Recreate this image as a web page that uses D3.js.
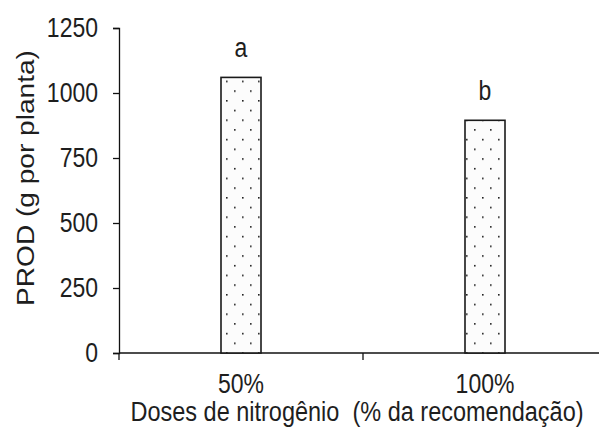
<!DOCTYPE html>
<html>
<head>
<meta charset="utf-8">
<script src="https://cdn.jsdelivr.net/npm/d3@7"></script>
<style>
  body { margin: 0; background: #fff; }
  svg { display: block; }
  text { font-family: "Liberation Sans", Arial, sans-serif; fill: #1e1e1e; }
</style>
</head>
<body>
<div id="chart"></div>
<script>
  // chart data
  var doses = ["50%", "100%"];
  var prod = [1060, 895];
  var letters = ["a", "b"];
  var yTicks = [0, 250, 500, 750, 1000, 1250];

  (function() {
    'use strict';
    var w = 599, h = 432;
    var m = { left: 119, right: 607, top: 28, bottom: 353 };
    var stretch = 1.17;   // the original text is drawn a bit taller than wide

    var svg = d3.select("#chart").append("svg")
        .attr("width", w)
        .attr("height", h);

    // dotted fill for the bars
    var pat = svg.append("defs").append("pattern")
        .attr("id", "dots")
        .attr("patternUnits", "userSpaceOnUse")
        .attr("width", 16)
        .attr("height", 19.4)
        .attr("x", 2).attr("y", 3);
    pat.append("rect").attr("width", 16).attr("height", 19.4).attr("fill", "#fcfcfc");
    pat.append("rect").attr("x", 0).attr("y", 0).attr("width", 1.6).attr("height", 1.6).attr("fill", "#222");
    pat.append("rect").attr("x", 8).attr("y", 9.7).attr("width", 1.6).attr("height", 1.6).attr("fill", "#222");

    var x = d3.scaleBand().domain(doses).range([m.left, m.right]);
    var y = d3.scaleLinear().domain([0, 1250]).range([m.bottom, m.top]);
    var barW = 40;

    function label(px, py, txt, size, anchor) {
      return svg.append("text")
          .attr("transform", "translate(" + px + "," + py + ") scale(1," + stretch + ")")
          .attr("text-anchor", anchor || "middle")
          .attr("xml:space", "preserve")
          .style("font-size", size + "px")
          .text(txt);
    }

    // y axis
    var yAxis = svg.append("g")
        .attr("transform", "translate(" + m.left + ",0)")
        .call(d3.axisLeft(y).tickValues(yTicks).tickFormat(d3.format("d"))
              .tickSize(6).tickPadding(12));
    yAxis.select(".domain").attr("stroke", "#111").attr("stroke-width", 1.3);
    yAxis.selectAll(".tick line").attr("stroke", "#111").attr("stroke-width", 1.3);
    yAxis.selectAll(".tick text").remove();
    yTicks.forEach(function(t) {
      label(98, y(t) + 8.5, String(t), 23, "end");
    });

    // x axis, ticks at band edges
    var xEdges = [m.left, m.left + x.bandwidth(), m.right];
    svg.append("line")
        .attr("x1", m.left).attr("x2", m.right)
        .attr("y1", m.bottom).attr("y2", m.bottom)
        .attr("stroke", "#111").attr("stroke-width", 1.3);
    svg.selectAll(".xtick").data(xEdges).enter().append("line")
        .attr("class", "xtick")
        .attr("x1", function(d) { return d; })
        .attr("x2", function(d) { return d; })
        .attr("y1", m.bottom).attr("y2", m.bottom + 7)
        .attr("stroke", "#111").attr("stroke-width", 1.3);

    doses.forEach(function(d) {
      label(x(d) + x.bandwidth() / 2, 393, d, 23);
    });

    // bars
    svg.selectAll(".bar").data(prod).enter().append("rect")
        .attr("class", "bar")
        .attr("x", function(d, i) { return x(doses[i]) + x.bandwidth() / 2 - barW / 2; })
        .attr("y", function(d) { return y(d); })
        .attr("width", barW)
        .attr("height", function(d) { return y(0) - y(d); })
        .attr("fill", "url(#dots)")
        .attr("stroke", "#1a1a1a")
        .attr("stroke-width", 1.6);

    // significance letters
    prod.forEach(function(d, i) {
      label(x(doses[i]) + x.bandwidth() / 2, y(d) - 20, letters[i], 23);
    });

    // axis titles
    label(357, 421, "Doses de nitrogênio  (% da recomendação)", 23.5);

    svg.append("text")
        .attr("transform", "translate(34,178) scale(1," + stretch + ") rotate(-90)")
        .attr("text-anchor", "middle")
        .style("font-size", "24px")
        .text("PROD (g por planta)");
  })();
</script>
</body>
</html>
